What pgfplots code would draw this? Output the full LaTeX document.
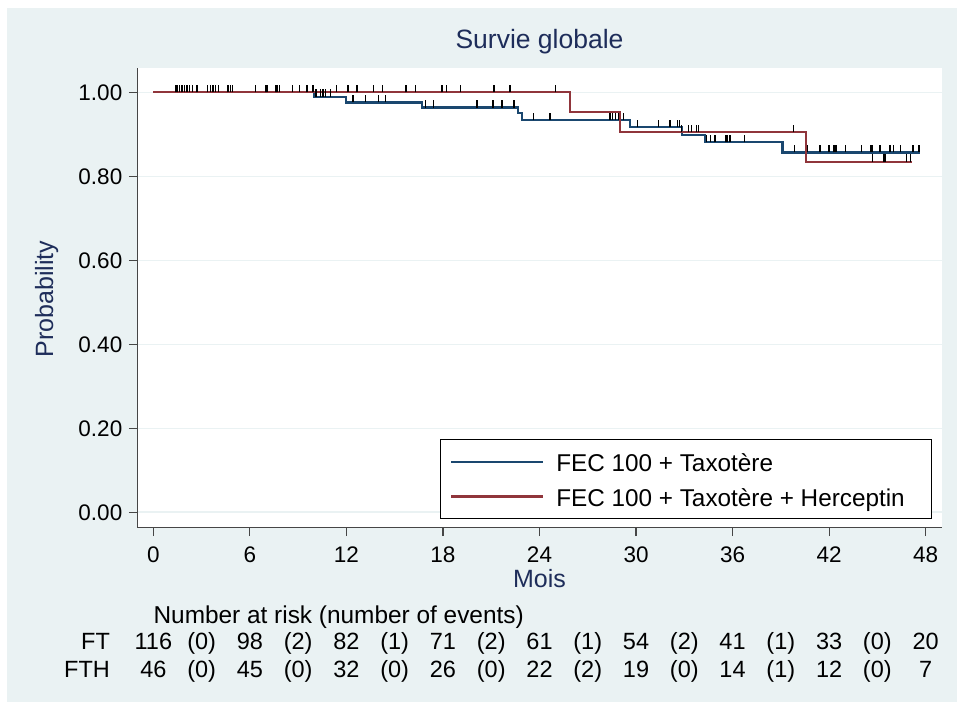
\documentclass[border=0pt]{standalone}
\usepackage{pgfplots}
\pgfplotsset{compat=1.18}
\usepackage{fontspec}
\setmainfont{Liberation Sans}
\definecolor{bgc}{RGB}{234,242,243}
\definecolor{ftblue}{RGB}{26,71,111}
\definecolor{fthred}{RGB}{144,53,59}
\definecolor{ttl}{RGB}{30,45,90}
\definecolor{axc}{RGB}{70,70,70}
\pgfdeclareplotmark{cens}{\pgfpathmoveto{\pgfqpoint{0pt}{0pt}}\pgfpathlineto{\pgfqpoint{0pt}{7.5pt}}\pgfusepathqstroke}
\newcommand\rt{\fontsize{23.5}{28}\selectfont}
\begin{document}
\begin{tikzpicture}[x=1pt,y=1pt]
\path[use as bounding box, fill=white] (0,0) rectangle (957,702);
\fill[bgc] (7,0) rectangle (957,694);
\begin{axis}[
 at={(137.3pt,174.3pt)}, anchor=south west, scale only axis,
 width=804.4pt, height=459.4pt,
 xmin=-1, xmax=49, ymin=-0.0367, ymax=1.0574,
 clip=false,
 axis background/.style={fill=white},
 axis x line*=bottom, axis y line*=left,
 axis line style={-, draw=axc, line width=1.1pt},
 xtick={0,6,12,18,24,30,36,42,48},
 ytick={0,0.2,0.4,0.6,0.8,1},
 tick align=outside, major tick length=8.5pt,
 tick style={draw=axc, line width=1.1pt},
 ymajorgrids, major grid style={draw=bgc, line width=1.6pt},
 /pgf/number format/assume math mode=true,
 ticklabel style={font=\fontsize{22.5}{27}\selectfont, text=black},
 xticklabel style={yshift=-7pt},
 yticklabel style={xshift=-3pt, /pgf/number format/fixed, /pgf/number format/fixed zerofill, /pgf/number format/precision=2},
 title={Survie globale},
 title style={at={(axis description cs:0.5,1.029)}, anchor=base, font=\fontsize{26.5}{30}\selectfont, text=ttl},
 xlabel={Mois}, ylabel={Probability},
 xlabel style={at={(axis description cs:0.5,-0.1297)}, anchor=base, font=\fontsize{25}{30}\selectfont, text=ttl},
 ylabel style={at={(axis description cs:-0.1048,0.498)}, anchor=base, font=\fontsize{25}{30}\selectfont, text=ttl},
 legend style={at={(axis description cs:1,0)}, anchor=south east, xshift=-10pt, yshift=8.4pt,
   draw=black, line width=0.9pt, fill=white, font=\fontsize{24.3}{28}\selectfont,
   inner xsep=10pt, inner ysep=8pt, row sep=5.5pt, cells={anchor=west},
   nodes={inner sep=0pt, text height=24.3pt, text depth=4.6pt},
   /tikz/every odd column/.append style={column sep=12pt}},
 legend image code/.code={\draw[#1] (0pt,0pt) -- (92pt,0pt);},
]
% FT (FEC 100 + Taxotere)
\addplot[const plot, ftblue, line width=2.2pt] coordinates {
 (0,1) (9.99,0.9895) (11.95,0.976) (16.69,0.964) (22.66,0.950) (22.91,0.934)
 (29.6,0.9167) (32.88,0.898) (34.31,0.881) (39.1,0.857) (47.62,0.857)};
\addlegendentry{\makebox[365pt][l]{FEC 100 + Taxotère}}
% FTH (FEC 100 + Taxotere + Herceptin)
\addplot[const plot, fthred, line width=2.2pt] coordinates {
 (0,1) (25.91,0.954) (28.98,0.905) (40.57,0.835) (47.18,0.835)};
\addlegendentry{\makebox[365pt][l]{FEC 100 + Taxotère + Herceptin}}
% censored observations
\addplot[forget plot, only marks, mark=cens, black, line width=1.3pt] coordinates {
 (1.41,1) (1.51,1) (1.64,1) (1.78,1) (1.93,1) (2.09,1) (2.26,1) (2.42,1) (2.71,1)
 (3.37,1) (3.54,1) (3.70,1) (3.87,1) (4.06,1) (4.64,1) (4.78,1) (4.93,1) (6.34,1)
 (7.0,1) (7.06,1) (7.58,1) (7.68,1) (7.85,1) (8.65,1) (9.07,1) (9.54,1) (9.92,1)
 (11.4,1) (12.09,1) (12.65,1) (13.69,1) (14.26,1) (15.71,1) (16.31,1) (17.93,1)
 (18.24,1) (19.07,1) (21.18,1) (22.17,1) (25.01,1)
 (10.1,0.9895) (10.37,0.9895) (10.54,0.9895) (10.70,0.9895) (11.0,0.9895)
 (12.4,0.976) (13.17,0.976) (14.0,0.976) (14.41,0.976)
 (16.9,0.964) (17.41,0.964) (20.1,0.964) (20.15,0.964) (21.1,0.964) (21.66,0.964) (22.42,0.964)
 (23.62,0.934) (24.66,0.934) (28.39,0.934) (28.55,0.934) (28.72,0.934) (28.9,0.934) (29.2,0.934)
 (30.08,0.9167) (31.39,0.9167) (32.11,0.9167) (32.57,0.9167) (32.69,0.9167)
 (32.84,0.905) (33.25,0.905) (33.46,0.905) (33.77,0.905) (33.87,0.905) (39.77,0.905)
 (34.39,0.881) (34.64,0.881) (34.91,0.881) (35.59,0.881) (35.67,0.881) (35.84,0.881) (36.73,0.881)
 (39.83,0.857) (40.66,0.857) (41.43,0.857) (42.0,0.857) (42.3,0.857) (42.38,0.857) (42.47,0.857)
 (43.04,0.857) (44.02,0.857) (44.6,0.857) (44.7,0.857) (45.16,0.857) (45.78,0.857) (46.02,0.857)
 (46.44,0.857) (47.22,0.857) (47.58,0.857)
 (44.7,0.835) (45.42,0.835) (45.47,0.835) (46.81,0.835) (47.08,0.835)};
% number at risk table
\begin{scope}[every node/.style={font=\rt, anchor=base, inner sep=0pt}]
\node[anchor=base west, font=\fontsize{24.4}{28}\selectfont] at (axis cs:0,-0.2643) {Number at risk (number of events)};
\node[anchor=base east] at (axis cs:-2.69,-0.3279) {FT};
\node[anchor=base east] at (axis cs:-2.69,-0.3929) {FTH};
\node at (axis cs:0,-0.3279) {116};
\node at (axis cs:3,-0.3279) {(0)};
\node at (axis cs:6,-0.3279) {98};
\node at (axis cs:9,-0.3279) {(2)};
\node at (axis cs:12,-0.3279) {82};
\node at (axis cs:15,-0.3279) {(1)};
\node at (axis cs:18,-0.3279) {71};
\node at (axis cs:21,-0.3279) {(2)};
\node at (axis cs:24,-0.3279) {61};
\node at (axis cs:27,-0.3279) {(1)};
\node at (axis cs:30,-0.3279) {54};
\node at (axis cs:33,-0.3279) {(2)};
\node at (axis cs:36,-0.3279) {41};
\node at (axis cs:39,-0.3279) {(1)};
\node at (axis cs:42,-0.3279) {33};
\node at (axis cs:45,-0.3279) {(0)};
\node at (axis cs:48,-0.3279) {20};
\node at (axis cs:0,-0.3929) {46};
\node at (axis cs:3,-0.3929) {(0)};
\node at (axis cs:6,-0.3929) {45};
\node at (axis cs:9,-0.3929) {(0)};
\node at (axis cs:12,-0.3929) {32};
\node at (axis cs:15,-0.3929) {(0)};
\node at (axis cs:18,-0.3929) {26};
\node at (axis cs:21,-0.3929) {(0)};
\node at (axis cs:24,-0.3929) {22};
\node at (axis cs:27,-0.3929) {(2)};
\node at (axis cs:30,-0.3929) {19};
\node at (axis cs:33,-0.3929) {(0)};
\node at (axis cs:36,-0.3929) {14};
\node at (axis cs:39,-0.3929) {(1)};
\node at (axis cs:42,-0.3929) {12};
\node at (axis cs:45,-0.3929) {(0)};
\node at (axis cs:48,-0.3929) {7};
\end{scope}
\end{axis}
\end{tikzpicture}
\end{document}
